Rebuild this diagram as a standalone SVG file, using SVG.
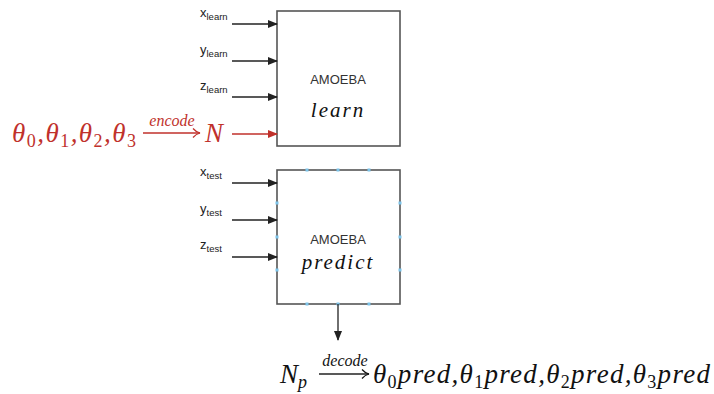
<svg xmlns="http://www.w3.org/2000/svg" width="714" height="394" viewBox="0 0 714 394">
  <style>
    .box { fill: #ffffff; stroke: #555555; stroke-width: 1.6; }
    .wire { stroke: #222222; stroke-width: 1.3; fill: none; }
    .red { stroke: #c0312b; stroke-width: 1.3; fill: none; }
    .lbl { font-family: "Liberation Sans", Arial, sans-serif; font-size: 13px; fill: #222222; }
    .sub { font-size: 9.5px; }
    .title { font-family: "Liberation Sans", Arial, sans-serif; font-size: 13px; fill: #333333; text-anchor: middle; }
    .mode { font-family: "Liberation Serif", "Times New Roman", serif; font-style: italic; font-size: 21px; letter-spacing: 2px; fill: #111111; text-anchor: middle; }
    .math { font-family: "Liberation Serif", "Times New Roman", serif; font-style: italic; font-size: 27px; }
    .mathsub { font-family: "Liberation Serif", "Times New Roman", serif; font-style: normal; font-size: 18px; }
    .mathsub.it { font-style: italic; }
    .over { font-family: "Liberation Serif", "Times New Roman", serif; font-style: italic; font-size: 16px; text-anchor: middle; }
    .port { fill: #7cc4ea; }
  </style>
  <defs>
    <marker id="ah" markerWidth="10" markerHeight="8" refX="9" refY="4" orient="auto" markerUnits="userSpaceOnUse">
      <path d="M0,0 L10,4 L0,8 Z" fill="#222222"/>
    </marker>
    <marker id="ahr" markerWidth="10" markerHeight="8" refX="9" refY="4" orient="auto" markerUnits="userSpaceOnUse">
      <path d="M0,0 L10,4 L0,8 Z" fill="#c0312b"/>
    </marker>
    <!-- open, curved head used by the long arrows inside formulas -->
    <marker id="mr" markerWidth="10" markerHeight="10" refX="8" refY="5" orient="auto" markerUnits="userSpaceOnUse">
      <path d="M1,0.5 Q4,4 8,5 Q4,6 1,9.5" fill="none" stroke="#c0312b" stroke-width="1.2"/>
    </marker>
    <marker id="mk" markerWidth="10" markerHeight="10" refX="8" refY="5" orient="auto" markerUnits="userSpaceOnUse">
      <path d="M1,0.5 Q4,4 8,5 Q4,6 1,9.5" fill="none" stroke="#111111" stroke-width="1.2"/>
    </marker>
  </defs>

  <!-- learning block -->
  <g id="amoeba-learn">
    <rect class="box" x="277" y="11" width="123" height="135"/>
    <text class="title" x="338" y="84">AMOEBA</text>
    <text class="mode" x="338" y="117">learn</text>
  </g>

  <!-- prediction block -->
  <g id="amoeba-predict">
    <rect class="box" x="277" y="170" width="123" height="134"/>
    <text class="title" x="338" y="244">AMOEBA</text>
    <text class="mode" x="338" y="269">predict</text>
    <g class="port">
      <rect x="305.5" y="168.5" width="3" height="3"/>
      <rect x="336.5" y="168.5" width="3" height="3"/>
      <rect x="367.5" y="168.5" width="3" height="3"/>
      <rect x="305.5" y="302.5" width="3" height="3"/>
      <rect x="336.5" y="302.5" width="3" height="3"/>
      <rect x="367.5" y="302.5" width="3" height="3"/>
      <rect x="275.5" y="201.5" width="3" height="3"/>
      <rect x="275.5" y="235.5" width="3" height="3"/>
      <rect x="275.5" y="268.5" width="3" height="3"/>
      <rect x="398.5" y="201.5" width="3" height="3"/>
      <rect x="398.5" y="235.5" width="3" height="3"/>
      <rect x="398.5" y="268.5" width="3" height="3"/>
    </g>
  </g>

  <!-- input labels -->
  <g id="inputs-learn">
    <text class="lbl" x="200" y="17">x<tspan class="sub" dy="3">learn</tspan></text>
    <text class="lbl" x="200" y="54">y<tspan class="sub" dy="3">learn</tspan></text>
    <text class="lbl" x="200" y="90">z<tspan class="sub" dy="3">learn</tspan></text>
  </g>
  <g id="inputs-test">
    <text class="lbl" x="200" y="176">x<tspan class="sub" dy="3">test</tspan></text>
    <text class="lbl" x="200" y="213">y<tspan class="sub" dy="3">test</tspan></text>
    <text class="lbl" x="200" y="249">z<tspan class="sub" dy="3">test</tspan></text>
  </g>

  <!-- encoded parameters -->
  <g id="encode" fill="#c0312b">
    <text class="math" x="12" y="142" textLength="124" lengthAdjust="spacing">θ<tspan class="mathsub" dy="5">0</tspan><tspan dy="-5">,θ</tspan><tspan class="mathsub" dy="5">1</tspan><tspan dy="-5">,θ</tspan><tspan class="mathsub" dy="5">2</tspan><tspan dy="-5">,θ</tspan><tspan class="mathsub" dy="5">3</tspan></text>
    <text class="over" x="172" y="126">encode</text>
    <text class="math" x="205" y="142">N</text>
  </g>

  <!-- decoded parameters -->
  <g id="decode" fill="#111111">
    <text class="math" x="280" y="383">N<tspan class="mathsub it" dy="5">p</tspan></text>
    <text class="over" x="345" y="366">decode</text>
    <text class="math" x="373" y="383" textLength="337" lengthAdjust="spacing">θ<tspan class="mathsub" dy="5">0</tspan><tspan dy="-5">pred,θ</tspan><tspan class="mathsub" dy="5">1</tspan><tspan dy="-5">pred,θ</tspan><tspan class="mathsub" dy="5">2</tspan><tspan dy="-5">pred,θ</tspan><tspan class="mathsub" dy="5">3</tspan><tspan dy="-5">pred</tspan></text>
  </g>

  <!-- connectors -->
  <g id="connectors">
    <line class="wire" x1="232" y1="24" x2="277" y2="24" marker-end="url(#ah)"/>
    <line class="wire" x1="232" y1="61" x2="277" y2="61" marker-end="url(#ah)"/>
    <line class="wire" x1="232" y1="97" x2="277" y2="97" marker-end="url(#ah)"/>
    <line class="red" x1="232" y1="134" x2="277" y2="134" marker-end="url(#ahr)"/>
    <line class="red" x1="143" y1="133" x2="200" y2="133" marker-end="url(#mr)"/>
    <line class="wire" x1="232" y1="183" x2="277" y2="183" marker-end="url(#ah)"/>
    <line class="wire" x1="232" y1="220" x2="277" y2="220" marker-end="url(#ah)"/>
    <line class="wire" x1="232" y1="257" x2="277" y2="257" marker-end="url(#ah)"/>
    <line class="wire" x1="338" y1="304" x2="338" y2="340" marker-end="url(#ah)"/>
    <line class="wire" x1="319" y1="374" x2="369" y2="374" marker-end="url(#mk)"/>
  </g>
</svg>
